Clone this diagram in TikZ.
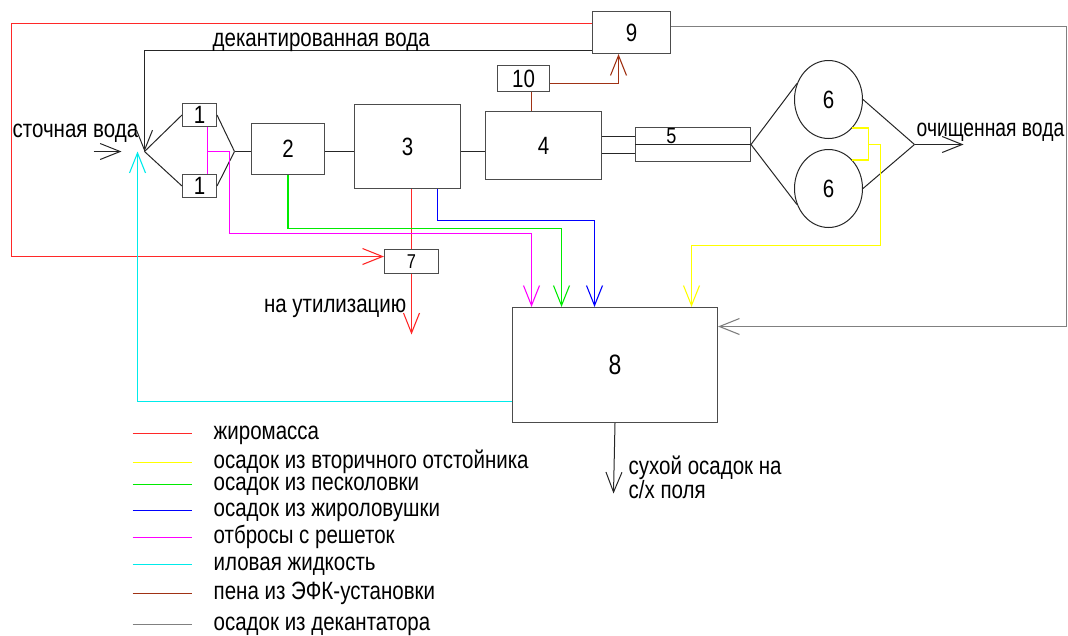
\documentclass[tikz,border=0pt]{standalone}
\usepackage{fontspec}
\setmainfont{Liberation Sans}[FakeStretch=0.82]
\usetikzlibrary{arrows.meta,shapes.geometric}

\definecolor{grease}{RGB}{255,40,40}
\definecolor{secsludge}{RGB}{255,255,0}
\definecolor{sandsludge}{RGB}{0,235,0}
\definecolor{trapsludge}{RGB}{0,0,255}
\definecolor{screenings}{RGB}{255,0,255}
\definecolor{siltwater}{RGB}{0,235,235}
\definecolor{foam}{RGB}{160,50,20}
\definecolor{decsludge}{RGB}{128,128,128}

\begin{document}
\begin{tikzpicture}[
  x=1pt, y=-1pt,
  >={Straight Barb[length=20pt,width=16pt]},
  font=\fontsize{25}{28}\selectfont,
  box/.style={draw=black!70, line width=1pt, inner sep=0pt},
  unit/.style={draw=black!85, ellipse, line width=1pt, minimum width=68pt, minimum height=78pt, inner sep=0pt},
  pipe/.style={line width=1pt, black!85},
  flow/.style={line width=1.1pt},
  lbl/.style={inner sep=0pt, anchor=base west}
]
\useasboundingbox (-0.5,-0.5) rectangle (1067.5,634.5);

% process units
\node[box, minimum width=34pt, minimum height=23pt] (b1a) at (199,114.5) {1};
\node[box, minimum width=34pt, minimum height=23pt] (b1b) at (199,185.5) {1};
\node[box, minimum width=73pt, minimum height=51pt] (b2) at (287.5,148.5) {2};
\node[box, minimum width=106pt, minimum height=84pt] (b3) at (407,146) {3};
\node[box, minimum width=116pt, minimum height=68pt] (b4) at (543,145) {4};
\node[box, minimum width=52pt, minimum height=26pt] (b10) at (523,78) {10};
\node[box, minimum width=78pt, minimum height=42pt] (b9) at (631,32) {9};
\node[box, minimum width=115pt, minimum height=34pt] (b5) at (692.5,144) {};
\node[inner sep=0pt, font=\fontsize{22}{24}\selectfont] (b5num) at (671,136) {5};
\node[unit] (c6a) at (828,99) {6};
\node[unit] (c6b) at (828,188) {6};
\node[box, minimum width=54pt, minimum height=24pt, font=\fontsize{20}{22}\selectfont] (b7) at (411,261) {7};
\node[box, minimum width=205pt, minimum height=115pt, font=\fontsize{28}{30}\selectfont] (b8) at (614.5,364.5) {8};

% junctions and free ends
\coordinate (inlet) at (93,151);
\coordinate (intip) at (121,151);
\coordinate (jin) at (144,151);
\coordinate (jout) at (234,151);
\coordinate (mturn) at (229,233);
\coordinate (gturn) at (561,228);
\coordinate (bturn) at (594,220);
\coordinate (rturn) at (11,256);
\coordinate (util) at (411,334);
\coordinate (dturn) at (1066,326);
\coordinate (cyin) at (137,151);
\coordinate (ycol) at (868,144);
\coordinate (yturn) at (880,245);
\coordinate (jw) at (914,144);
\coordinate (outlet) at (963,144);
\coordinate (dry) at (613,493);

% main water line
\draw[pipe, ->] (inlet) -- (intip);
\draw[pipe] (jin) -- (b1a.west);
\draw[pipe] (jin) -- (b1b.west);
\draw[pipe] (b1a.east) -- (jout);
\draw[pipe] (b1b.east) -- (jout);
\draw[pipe] (jout) -- (b2.west |- jout);
\draw[pipe] (b2.east |- jout) -- (b3.west |- jout);
\draw[pipe] (b3.east |- jout) -- (b4.west |- jout);
\draw[pipe] ([yshift=9pt]b4.east) -- ([yshift=9pt]b4.east -| b5.west);
\draw[pipe] ([yshift=-8pt]b4.east) -- ([yshift=-8pt]b4.east -| b5.west);
\draw[pipe] (b5.west) -- (b5.east);
\draw[pipe] (b5.east) -- (c6a.153);
\draw[pipe] (b5.east) -- (c6b.207);
\draw[pipe] (c6a.east) -- (jw);
\draw[pipe] (c6b.east) -- (jw);
\draw[pipe, ->] (jw) -- (outlet);
\draw[pipe, ->] ([yshift=-18pt]b9.west) -| (jin);
\draw[pipe, ->] (b8.south) -- (dry);

% sludge lines
\draw[flow, grease] ([yshift=9pt]b9.west) -| (rturn);
\draw[flow, grease, ->] (rturn) -- ([yshift=5pt]b7.west);
\draw[flow, grease] (b7.north |- b3.south) -- (b7.north);
\draw[flow, grease, ->] (b7.south) -- (util);
\draw[flow, screenings] ([xshift=8pt]b1a.south) -- ([xshift=8pt]b1b.north);
\draw[flow, screenings, ->] ([xshift=8pt]b1a.south |- jout) -| (mturn) -| ([xshift=-83.5pt]b8.north);
\draw[flow, sandsludge, ->] (b2.south) |- (gturn) -- (gturn |- b8.north);
\draw[flow, trapsludge, ->] ([xshift=30pt]b3.south) |- (bturn) -- (bturn |- b8.north);
\draw[flow, secsludge] (c6a.310) -| (ycol) |- (c6b.50);
\draw[flow, secsludge, ->] (ycol) -| (yturn) -| ([xshift=76.5pt]b8.north);
\draw[flow, foam] ([xshift=-12pt]b4.north) -- ([xshift=-12pt]b4.north |- b10.south);
\draw[flow, foam, ->] ([yshift=-5pt]b10.east) -| ([xshift=-13pt]b9.south);
\draw[flow, decsludge] ([yshift=6pt]b9.east) -| (dturn);
\draw[flow, decsludge, ->] (dturn) -- (dturn -| b8.east);
\draw[flow, siltwater, ->] ([yshift=-36.5pt]b8.west) -| (cyin);

% labels
\node[lbl] (lblin) at (12,137) {сточная вода};
\node[lbl] (lbldec) at (212,46) {декантированная вода};
\node[lbl] (lblout) at (916,136) {\scalebox{0.94}[1]{очищенная вода}};
\node[lbl, anchor=base east] (lblutil) at (406,312) {на утилизацию};
\node[lbl, align=left, anchor=north west, font=\fontsize{25}{22}\selectfont] (lbldry) at (628,455) {сухой осадок на\\с/х поля};

% legend
\foreach \c/\yy/\t [count=\i] in {grease/433/жиромасса,
    secsludge/462/осадок из вторичного отстойника,
    sandsludge/484/осадок из песколовки,
    trapsludge/510/осадок из жироловушки,
    screenings/537/отбросы с решеток,
    siltwater/564/иловая жидкость,
    foam/593/пена из ЭФК-установки,
    decsludge/624/осадок из декантатора}{
  \node[lbl] (key\i) at (213,\yy+6) {\t};
  \draw[flow, \c] ([xshift=-81pt,yshift=6pt]key\i.base west) -- ++(59,0);
}
\end{tikzpicture}
\end{document}
